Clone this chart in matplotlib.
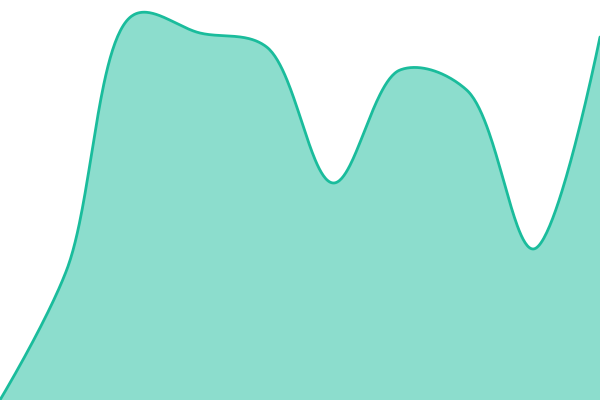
import numpy as np
import matplotlib
matplotlib.use("Agg")
import matplotlib.pyplot as plt

# values (0 = bottom edge, 400 = top edge)
positions = list(range(10))
values = [0, 130, 385, 367, 353, 217, 330, 310, 151, 363]

LINE_COLOR = "#1abc9c"
WIDTH, HEIGHT = 600, 400


# centripetal Catmull-Rom (alpha 0.5), done in pixel space like d3.curveCatmullRom
def catmull_rom(px, py, alpha=0.5, steps=60):
    pts = np.column_stack((px, py)).astype(float)
    padded = np.vstack((pts[0], pts, pts[-1]))
    out = []
    eps = 1e-12
    for i in range(len(pts) - 1):
        p0, p1, p2, p3 = padded[i], padded[i + 1], padded[i + 2], padded[i + 3]
        l01a = np.linalg.norm(p1 - p0) ** alpha
        l12a = np.linalg.norm(p2 - p1) ** alpha
        l23a = np.linalg.norm(p3 - p2) ** alpha
        l01_2a, l12_2a, l23_2a = l01a ** 2, l12a ** 2, l23a ** 2
        c1 = p1.copy()
        c2 = p2.copy()
        if l01a > eps:
            a = 2 * l01_2a + 3 * l01a * l12a + l12_2a
            n = 3 * l01a * (l01a + l12a)
            c1 = (p1 * a - p0 * l12_2a + p2 * l01_2a) / n
        if l23a > eps:
            b = 2 * l23_2a + 3 * l23a * l12a + l12_2a
            m = 3 * l23a * (l23a + l12a)
            c2 = (p2 * b + p1 * l23_2a - p3 * l12_2a) / m
        t = np.linspace(0, 1, steps, endpoint=(i == len(pts) - 2))[:, None]
        seg = ((1 - t) ** 3) * p1 + 3 * ((1 - t) ** 2) * t * c1 + 3 * (1 - t) * t ** 2 * c2 + t ** 3 * p2
        out.append(seg)
    out = np.vstack(out)
    return out[:, 0], out[:, 1]


def main():
    fig = plt.figure(figsize=(6, 4), dpi=100)
    ax = fig.add_axes([0, 0, 1, 1])

    x0, x1 = positions[0], positions[-1]
    y0, y1 = 0, 400
    # to pixel space for the smoothing, then back to data units
    px = (np.array(positions) - x0) / (x1 - x0) * WIDTH
    py = (np.array(values) - y0) / (y1 - y0) * HEIGHT
    sx, sy = catmull_rom(px, py)
    cx = x0 + sx / WIDTH * (x1 - x0)
    cy = y0 + sy / HEIGHT * (y1 - y0)

    ax.fill_between(cx, cy, y0, color=LINE_COLOR, alpha=0.5, lw=0)
    ax.plot(cx, cy, color=LINE_COLOR, lw=2.0, solid_capstyle="round")

    ax.set_xlim(x0, x1)
    ax.set_ylim(y0, y1)
    ax.axis("off")

    fig.savefig("out.png", dpi=100, facecolor="white")


if __name__ == "__main__":
    main()
